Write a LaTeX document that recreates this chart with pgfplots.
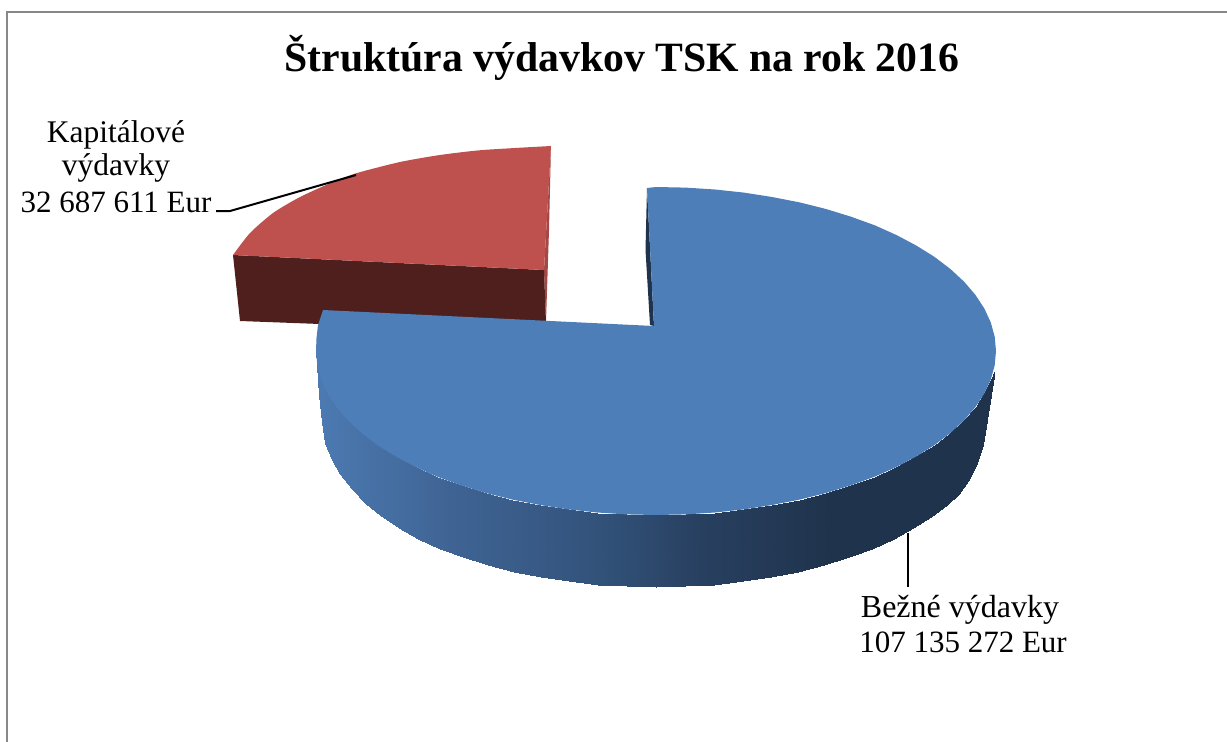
\documentclass[border=0pt]{standalone}
\usepackage{pgfplots}
\pgfplotsset{compat=1.18}
\usepackage{fontspec}
\setmainfont{Liberation Serif}
\definecolor{blueTop}{RGB}{78,126,184}
\definecolor{blueDark}{RGB}{31,51,76}
\definecolor{redTop}{RGB}{190,80,77}
\definecolor{redSide}{RGB}{79,31,30}
\definecolor{redEdge}{RGB}{164,72,70}
\definecolor{frameC}{RGB}{136,136,136}
\begin{document}
\begin{tikzpicture}
\begin{axis}[
  scale only axis, width=1227pt, height=742pt,
  xmin=0, xmax=1227, ymin=0, ymax=742, y dir=reverse,
  hide axis, clip=true,
  point meta min=316, point meta max=996,
  colormap={sidemap}{rgb255(0)=(76,122,178) rgb255(134)=(63,100,148) rgb255(284)=(50,82,122) rgb255(384)=(40,64,96) rgb255(514)=(31,51,76) rgb255(680)=(31,51,76)},
]
\path (axis cs:0,0) rectangle (axis cs:1227,742);
% frame
\addplot[draw=frameC, line width=2pt] coordinates {(7,742) (7,12) (1227,12)};
% red slice
\addplot[fill=redEdge, draw=none] coordinates {(551,146) (549,230) (546,322) (544,270)} -- cycle;
\addplot[fill=redSide, draw=none] coordinates {(233,255) (544,270) (546,322) (320,324) (240,321)} -- cycle;
\addplot[fill=redTop, draw=none, smooth, tension=0.4] coordinates {(233,255) (250,233) (273,213) (300,197) (333,182) (357,173) (400,162) (440,155) (483,150) (551,146)} -- (axis cs:544,270) -- cycle;
% blue inner sliver
\addplot[fill=blueDark, draw=none] coordinates {(647,188) (645.5,250) (650,325) (654,326)} -- cycle;
% blue outer side
\addplot[patch, patch type=rectangle, shader=interp, point meta=x] coordinates {
(316,351) (316.5,358) (319.5,395) (317.3,365.3)
(317.3,365.3) (319.5,395) (322,422) (321.2,379.5)
(321.2,379.5) (322,422) (325,443) (327.6,393.4)
(327.6,393.4) (325,443) (331.5,460) (327.6,393.4)
(327.6,393.4) (331.5,460) (340.2,474) (336.5,407)
(336.5,407) (340.2,474) (351.5,489) (347.9,420.3)
(347.9,420.3) (351.5,489) (365,503) (361.6,433)
(361.6,433) (365,503) (380.8,516) (377.5,445.1)
(377.5,445.1) (380.8,516) (398.6,528.4) (395.6,456.4)
(395.6,456.4) (398.6,528.4) (418.4,539) (415.6,467)
(415.6,467) (418.4,539) (440,548.6) (437,476.6)
(437,476.6) (440,548.6) (463.3,557.3) (461,485.3)
(461,485.3) (463.3,557.3) (488,565) (486,493)
(486,493) (488,565) (514,571.6) (512.3,499.6)
(512.3,499.6) (514,571.6) (541,577) (540,505)
(540,505) (541,577) (569,581.4) (568,509.4)
(568,509.4) (569,581.4) (597.7,584.5) (597,512.5)
(597,512.5) (597.7,584.5) (626.7,586.4) (626.4,514.4)
(626.4,514.4) (626.7,586.4) (656,587) (656,515)
(656,515) (656,587) (685.3,586.4) (685.6,514.4)
(685.6,514.4) (685.3,586.4) (714.3,584.5) (715,512.5)
(715,512.5) (714.3,584.5) (743,581.4) (744,509.4)
(744,509.4) (743,581.4) (771,577) (772,505)
(772,505) (771,577) (798,571.6) (799.7,499.6)
(799.7,499.6) (798,571.6) (824,565) (826,493)
(826,493) (824,565) (848.7,557.3) (851,485.3)
(851,485.3) (848.7,557.3) (872,548.6) (875,476.6)
(875,476.6) (872,548.6) (893.6,539) (896.4,467)
(896.4,467) (893.6,539) (913.4,528.4) (916.4,456.4)
(916.4,456.4) (913.4,528.4) (931.2,517) (934.5,445.1)
(934.5,445.1) (931.2,517) (947,505) (950.4,433)
(950.4,433) (947,505) (958.5,493.5) (964.1,420.3)
(964.1,420.3) (958.5,493.5) (968,481) (975.5,407)
(975.5,407) (968,481) (976,466) (984.4,393.4)
(984.4,393.4) (976,466) (983,445) (990.8,379.5)
(990.8,379.5) (983,445) (994.5,370) (994.5,370)
};
% blue top
\addplot[fill=blueTop, draw=none] coordinates {
(647,188) (656,187) (685.6,187.6) (715,189.5) (744,192.6) (772,197) (799.7,202.4) (826,209) (851,216.7) (875,225.4) (896.4,235) (916.4,245.6) (934.5,256.9) (950.4,269) (964.1,281.7) (975.5,295) (984.4,308.6) (990.8,322.5) (994.7,336.7) (996,351)
(994.7,365.3) (990.8,379.5) (984.4,393.4) (975.5,407) (964.1,420.3) (950.4,433) (934.5,445.1) (916.4,456.4) (896.4,467) (875,476.6) (851,485.3) (826,493) (799.7,499.6) (772,505) (744,509.4) (715,512.5) (685.6,514.4) (656,515)
(626.4,514.4) (597,512.5) (568,509.4) (540,505) (512.3,499.6) (486,493) (461,485.3) (437,476.6) (415.6,467) (395.6,456.4) (377.5,445.1) (361.6,433) (347.9,420.3) (336.5,407) (327.6,393.4) (321.2,379.5) (317.3,365.3) (316,351) (316.5,338) (318,325) (323,310)
(654,326)} -- cycle;
% leader lines
\addplot[black, line width=2pt] coordinates {(216,211) (230,211) (356,175)};
\addplot[black, line width=2pt] coordinates {(908,533) (908,587)};
% texts
\node[anchor=base, font=\fontsize{41.7}{41.7}\selectfont\bfseries] at (axis cs:622,71) {Štruktúra výdavkov TSK na rok 2016};
\node[anchor=base, font=\fontsize{31.5}{31.5}\selectfont] at (axis cs:116,142) {Kapitálové};
\node[anchor=base, font=\fontsize{31.5}{31.5}\selectfont] at (axis cs:116,175) {výdavky};
\node[anchor=base, font=\fontsize{31}{31}\selectfont] at (axis cs:116,212) {32 687 611 Eur};
\node[anchor=base, font=\fontsize{32}{32}\selectfont] at (axis cs:960,617) {Bežné výdavky};
\node[anchor=base, font=\fontsize{31}{31}\selectfont] at (axis cs:963,652) {107 135 272 Eur};
\end{axis}
\end{tikzpicture}
\end{document}
